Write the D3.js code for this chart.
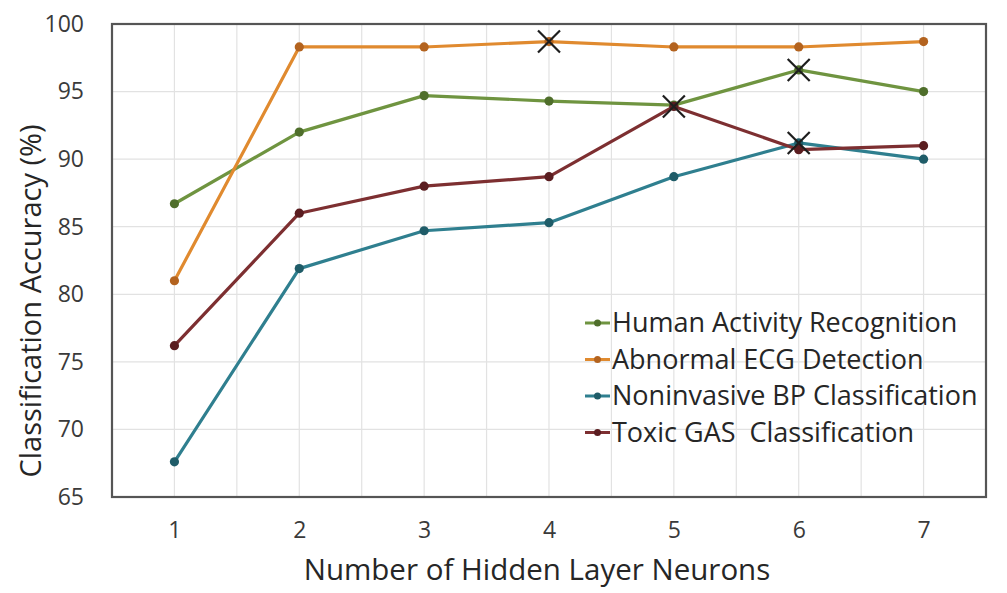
<!DOCTYPE html>
<html><head><meta charset="utf-8">
<script src="https://cdn.jsdelivr.net/npm/d3@7"></script>
<style>html,body{margin:0;padding:0;background:#fff;} svg{display:block;}</style>
</head><body>
<svg id="chart" width="1007" height="593"></svg>
<script>
const neurons = [1, 2, 3, 4, 5, 6, 7];
const seriesNames = ["Human Activity Recognition", "Abnormal ECG Detection", "Noninvasive BP Classification", "Toxic GAS  Classification"];
const humanActivity = [86.7, 92.0, 94.7, 94.3, 94.0, 96.6, 95.0];
const abnormalECG   = [81.0, 98.3, 98.3, 98.7, 98.3, 98.3, 98.7];
const noninvasiveBP = [67.6, 81.9, 84.7, 85.3, 88.7, 91.2, 90.0];
const toxicGas      = [76.2, 86.0, 88.0, 88.7, 93.9, 90.7, 91.0];
const bestNeurons   = [6, 4, 6, 5];
const yTicks = [65, 70, 75, 80, 85, 90, 95, 100];
const xTicks = [1, 2, 3, 4, 5, 6, 7];
const xLabel = "Number of Hidden Layer Neurons";
const yLabel = "Classification Accuracy (%)";

const lineColors = ["#6f9440", "#e08a2f", "#2f7f8f", "#7d2f31"];
const dotColors  = ["#4f6e2b", "#b3631f", "#1f5c68", "#5a1d20"];
const allValues = [humanActivity, abnormalECG, noninvasiveBP, toxicGas];

const svg = d3.select("#chart");
const m = {left: 112, top: 24, right: 1007 - 986, bottom: 593 - 497};
const W = 1007, H = 593;
const x = d3.scaleLinear().domain([0.5, 7.5]).range([m.left, W - m.right]);
const y = d3.scaleLinear().domain([65, 100]).range([H - m.bottom, m.top]);
const font = "'Open Sans', Lato, sans-serif";

// gridlines
const g = svg.append("g");
g.selectAll(".vg").data(d3.range(0.5, 7.51, 0.5)).join("line")
  .attr("x1", d => x(d)).attr("x2", d => x(d))
  .attr("y1", y(65)).attr("y2", y(100))
  .attr("stroke", "#e2e2e2").attr("stroke-width", 1.2);
g.selectAll(".hg").data(yTicks).join("line")
  .attr("x1", x(0.5)).attr("x2", x(7.5))
  .attr("y1", d => y(d)).attr("y2", d => y(d))
  .attr("stroke", "#e2e2e2").attr("stroke-width", 1.2);

// axes (labels only)
const yAxis = svg.append("g").attr("transform", `translate(${m.left},0)`)
  .call(d3.axisLeft(y).tickValues(yTicks).tickSize(0).tickPadding(28));
yAxis.select(".domain").remove();
yAxis.selectAll("text").attr("font-family", font).attr("font-size", 23).attr("fill", "#3a3a3a");

const xAxis = svg.append("g").attr("transform", `translate(0,${H - m.bottom})`)
  .call(d3.axisBottom(x).tickValues(xTicks).tickFormat(d3.format("d")).tickSize(0).tickPadding(25));
xAxis.select(".domain").remove();
xAxis.selectAll("text").attr("font-family", font).attr("font-size", 23).attr("fill", "#3a3a3a");

// frame
svg.append("rect").attr("x", x(0.5)).attr("y", y(100))
  .attr("width", x(7.5) - x(0.5)).attr("height", y(65) - y(100))
  .attr("fill", "none").attr("stroke", "#555").attr("stroke-width", 2.2);

// lines
const line = d3.line().x((d, i) => x(neurons[i])).y(d => y(d));
allValues.forEach((vals, s) => {
  svg.append("path").datum(vals).attr("d", line)
    .attr("fill", "none").attr("stroke", lineColors[s]).attr("stroke-width", 3.2)
    .attr("stroke-linejoin", "round");
});
allValues.forEach((vals, s) => {
  svg.append("g").selectAll("circle").data(vals).join("circle")
    .attr("cx", (d, i) => x(neurons[i])).attr("cy", d => y(d)).attr("r", 4.6)
    .attr("fill", dotColors[s]);
});

// best markers (X)
const xs = 11;
bestNeurons.forEach((n, s) => {
  const cx = x(n), cy = y(allValues[s][neurons.indexOf(n)]);
  const mk = svg.append("g").attr("transform", `translate(${cx},${cy})`);
  mk.append("path").attr("d", `M${-xs},${-xs}L${xs},${xs}M${-xs},${xs}L${xs},${-xs}`)
    .attr("stroke", "#1e1e1e").attr("stroke-width", 2.2).attr("fill", "none");
});

// legend
const lg = svg.append("g").attr("transform", "translate(585,323)");
seriesNames.forEach((name, s) => {
  const row = lg.append("g").attr("transform", `translate(0,${s * 36.5})`);
  row.append("line").attr("x1", 0).attr("x2", 25).attr("y1", 0).attr("y2", 0)
    .attr("stroke", lineColors[s]).attr("stroke-width", 3);
  row.append("circle").attr("cx", 12.5).attr("cy", 0).attr("r", 3.5).attr("fill", dotColors[s]);
  row.append("text").attr("x", 27).attr("y", 0).attr("dy", "0.35em")
    .style("white-space", "pre")
    .attr("font-family", font).attr("font-size", 27).attr("fill", "#262626").text(name);
});

// axis titles
svg.append("text").attr("x", 537).attr("y", 570).attr("dy", "0.35em")
  .attr("text-anchor", "middle").attr("font-family", font).attr("font-size", 29.5)
  .attr("fill", "#262626").text(xLabel);
svg.append("text").attr("transform", "translate(31,301) rotate(-90)").attr("dy", "0.35em")
  .attr("text-anchor", "middle").attr("font-family", font).attr("font-size", 29)
  .attr("fill", "#262626").text(yLabel);
</script>
</body></html>
